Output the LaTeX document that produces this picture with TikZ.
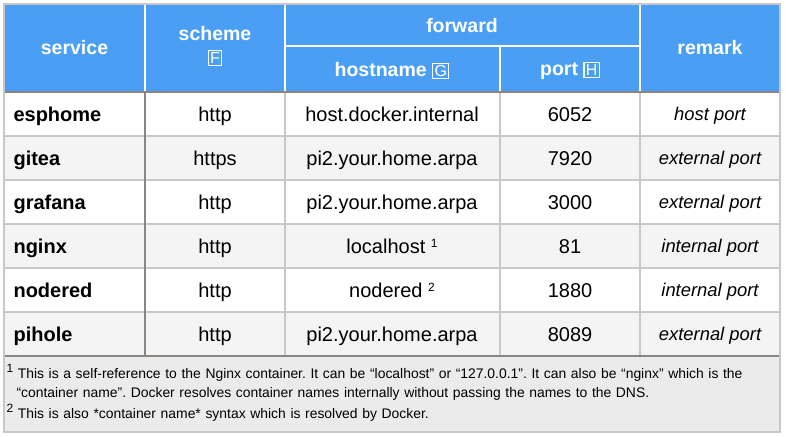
\documentclass[tikz,border=0pt]{standalone}
\usepackage{fontspec}
\setmainfont{Liberation Sans}
\frenchspacing
\definecolor{hdr}{HTML}{4A9FF5}
\definecolor{alt}{HTML}{F4F4F4}
\definecolor{grid}{HTML}{C8C8C8}
\definecolor{dark}{HTML}{8A8580}
\definecolor{foot}{HTML}{EBEBEB}
\newcommand{\boxl}[1]{{\setlength{\fboxsep}{1.2pt}\setlength{\fboxrule}{1.2pt}\fbox{\normalfont\fontsize{16}{16}\selectfont\vphantom{H}#1}}}
\newcommand{\sups}[1]{\raisebox{6pt}{\fontsize{12}{12}\selectfont #1}}
\begin{document}
\begin{tikzpicture}[x=1pt,y=-1pt,
  hd/.style={text=white,font=\fontsize{19.5}{24}\bfseries\selectfont,align=center},
  cell/.style={font=\fontsize{20}{24}\selectfont,anchor=base},
  rem/.style={font=\fontsize{18.4}{24}\itshape\selectfont,anchor=base},
  fn/.style={font=\fontsize{13.9}{19}\selectfont,anchor=north west,align=left,text width=770pt}]
\useasboundingbox (0,0) rectangle (786,436);
\fill[white] (0,0) rectangle (786,436);
\fill[hdr] (4,4) rectangle (780,92);
\foreach \i in {1,3,5} \fill[alt] (4,{92+44*\i}) rectangle (780,{136+44*\i});
\fill[foot] (4,356) rectangle (780,432);
\draw[white,line width=2pt] (145,4) -- (145,92) (285,4) -- (285,92) (640,4) -- (640,92) (500,46) -- (500,92) (285,46) -- (640,46);
\foreach \i in {1,...,5} \draw[grid,line width=1.3pt] (4,{92+44*\i}) -- (780,{92+44*\i});
\draw[grid,line width=1.3pt] (285,92) -- (285,356) (500,92) -- (500,356) (640,92) -- (640,356);
\draw[dark,line width=1.5pt] (145,92) -- (145,356);
\draw[dark,line width=2pt] (4,92) -- (780,92) (4,356) -- (780,356);
\draw[grid,line width=1.3pt] (4,4) rectangle (780,432);
\node[hd] (h1) at (74.5,48) {service};
\node[hd] (h2) at (215,46) {scheme\\[-1pt]\boxl{F}};
\node[hd] (h3) at (462,26) {forward};
\node[hd] (h4) at (392,71) {hostname \boxl{G}};
\node[hd] (h5) at (570,71) {port \boxl{H}};
\node[hd] (h6) at (710,48) {remark};
\foreach \s/\sc/\h/\p/\r [count=\i from 0] in {esphome/http/host.docker.internal/6052/host port,
  gitea/https/pi2.your.home.arpa/7920/external port,
  grafana/http/pi2.your.home.arpa/3000/external port,
  nginx/http/localhost \sups{1}/81/internal port,
  nodered/http/nodered \sups{2}/1880/internal port,
  pihole/http/pi2.your.home.arpa/8089/external port} {
  \node[cell,font=\fontsize{20}{24}\bfseries\selectfont,anchor=base west] (s\i) at (10,{121+44*\i}) {\s};
  \node[cell] (c\i) at (215,{121+44*\i}) {\sc};
  \node[cell] (n\i) at (392,{121+44*\i}) {\h};
  \node[cell] (p\i) at (570,{121+44*\i}) {\p};
  \node[rem] (r\i) at (710,{120+44*\i}) {\r};
}
\node[fn] (f1) at (3,361) {\sups{1} This is a self-reference to the Nginx container. It can be “localhost” or “127.0.0.1”. It can also be “nginx” which is the\\\hspace*{10pt}“container name”. Docker resolves container names internally without passing the names to the DNS.};
\node[fn] (f2) at (3,401) {\sups{2} This is also *container name* syntax which is resolved by Docker.};
\end{tikzpicture}
\end{document}
